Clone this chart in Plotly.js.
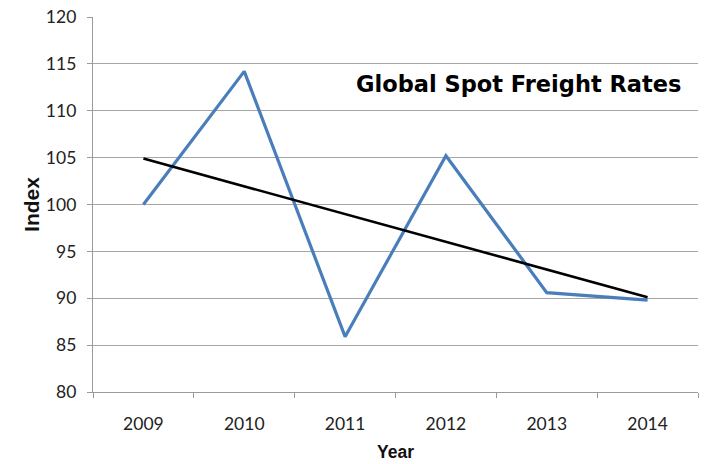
<!DOCTYPE html>
<html>
<head>
<meta charset="utf-8">
<script src="https://cdn.plot.ly/plotly-3.0.1.min.js"></script>
<style>html,body{margin:0;padding:0;background:#fff;}#chart{width:709px;height:464px;}</style>
</head>
<body>
<div id="chart"></div>
<script>
const years = ['2009', '2010', '2011', '2012', '2013', '2014'];
const indexValues = [100, 114.2, 85.9, 105.2, 90.6, 89.8];
const trendYears = ['2009', '2014'];
const trendValues = [104.9, 90.1];
const yTicks = [80, 85, 90, 95, 100, 105, 110, 115, 120];
const chartTitle = 'Global Spot Freight Rates';

const traces = [
  {x: years, y: indexValues, type: 'scatter', mode: 'lines',
   line: {color: '#4a7ebb', width: 3.2}, hoverinfo: 'skip'},
  {x: trendYears, y: trendValues, type: 'scatter', mode: 'lines',
   line: {color: '#000000', width: 2.6}, hoverinfo: 'skip'}
];

const layout = {
  width: 709, height: 464,
  margin: {l: 93, r: 11, t: 17, b: 72},
  paper_bgcolor: '#ffffff', plot_bgcolor: '#ffffff',
  showlegend: false,
  font: {family: 'Lato, "Open Sans", sans-serif', size: 17.5, color: '#222'},
  xaxis: {
    type: 'category', categoryorder: 'array', categoryarray: years,
    range: [-0.5, 5.5],
    tickson: 'boundaries', ticks: 'outside', ticklen: 5, tickcolor: '#9a9a9a',
    ticklabelstandoff: 16,
    showgrid: false, showline: true, linecolor: '#9a9a9a', linewidth: 1.2,
    zeroline: false, tickfont: {size: 17.5, color: '#222'},
    title: {text: '<b>Year</b>', font: {family: 'Liberation Sans, Arial, sans-serif', size: 17.5, color: '#111'}, standoff: 12}
  },
  yaxis: {
    range: [80, 120], tickvals: yTicks, ticktext: yTicks.map(String),
    ticks: 'outside', ticklen: 5, tickcolor: '#9a9a9a',
    ticklabelstandoff: 7,
    showgrid: true, gridcolor: '#a6a6a6', gridwidth: 1.2,
    showline: true, linecolor: '#9a9a9a', linewidth: 1.2,
    zeroline: false, tickfont: {size: 17.5, color: '#222'},
    title: {text: '<b>Index</b>', font: {family: 'Liberation Sans, Arial, sans-serif', size: 21, color: '#111'}, standoff: 0}
  },
  annotations: [{
    text: '<b>' + chartTitle + '</b>', xref: 'paper', yref: 'paper',
    x: 0.975, y: 0.822, xanchor: 'right', yanchor: 'middle', showarrow: false,
    font: {family: '"DejaVu Sans", sans-serif', size: 22.5, color: '#000'},
    bgcolor: '#ffffff'
  }]
};

Plotly.newPlot('chart', traces, layout, {displayModeBar: false, staticPlot: true});
</script>
</body>
</html>
